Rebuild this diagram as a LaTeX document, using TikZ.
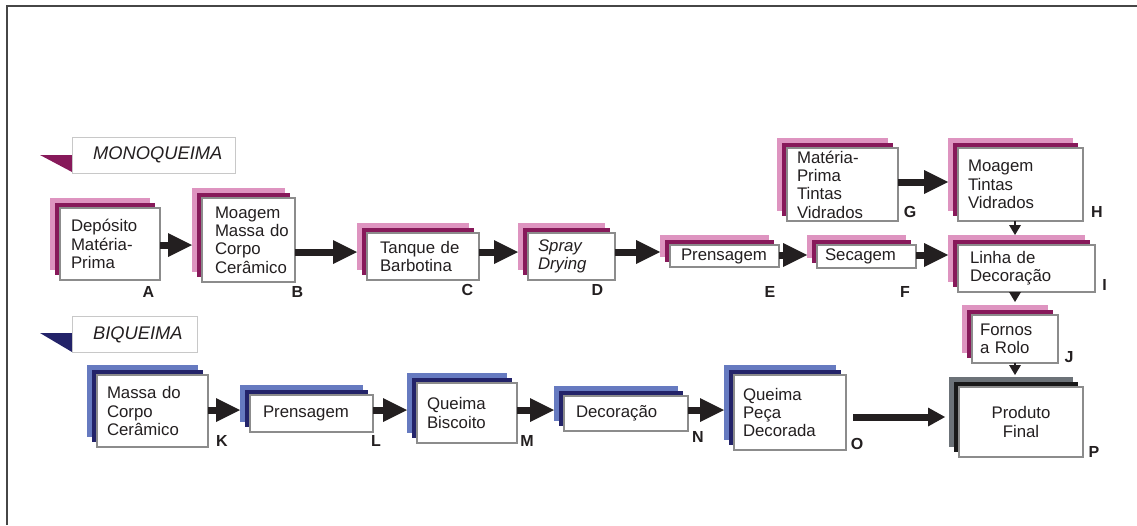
\documentclass[tikz,border=0pt]{standalone}
\usepackage{fontspec}
\setmainfont{Liberation Sans}
\usetikzlibrary{arrows.meta}
\definecolor{pinkL}{RGB}{222,148,192}
\definecolor{plum}{RGB}{135,25,90}
\definecolor{blueL}{RGB}{102,122,192}
\definecolor{navy}{RGB}{35,35,105}
\definecolor{slate}{RGB}{108,114,120}
\definecolor{coal}{RGB}{25,25,25}
\definecolor{ink}{RGB}{35,31,32}
\definecolor{rim}{RGB}{140,140,140}
\definecolor{tagrim}{RGB}{200,200,200}
\definecolor{frameg}{RGB}{70,70,70}
\hyphenpenalty=10000
\exhyphenpenalty=10000

% three stacked sheets: light back, dark middle, white front with the text
% #1 name, #2 x, #3 y (top left of front), #4 width, #5 height,
% #6 back colour, #7 middle colour, #8 front options, #9 text
\newcommand{\layered}[9]{%
  \node[layer, fill=#6, minimum width=#4pt, minimum height=#5pt] (#1-l) at (#2-10,#3-10) {};
  \node[layer, fill=#7, minimum width=#4pt, minimum height=#5pt] (#1-d) at (#2-5,#3-5) {};
  \node[front, minimum width=#4pt, minimum height=#5pt, #8] (#1) at (#2,#3) {#9};
}

\begin{document}
\begin{tikzpicture}[x=1pt,y=-1pt,
  layer/.style={draw=none, inner sep=0pt, outer sep=0pt, anchor=north west},
  front/.style={draw=rim, line width=1.1pt, fill=white, anchor=north west,
    inner ysep=1pt, outer sep=0pt, align=left, text=ink,
    font=\fontsize{16.8}{18.3}\selectfont},
  letter/.style={text=ink, font=\bfseries\fontsize{16}{16}\selectfont, inner sep=0pt},
  tagbox/.style={draw=tagrim, line width=1pt, fill=white, anchor=north west, inner sep=0pt},
  tagtext/.style={text=ink, anchor=west, inner sep=0pt, font=\itshape\fontsize{18.3}{18.3}\selectfont},
  bigarrow/.style={draw=ink, line width=7pt, -{Triangle[length=24pt,width=24pt,line width=0pt 0]}},
  endarrow/.style={draw=ink, line width=7pt, -{Triangle[length=17pt,width=19pt,line width=0pt 0]}},
  smallarrow/.style={draw=ink, line width=1.5pt, -{Triangle[length=10pt,width=12pt,line width=0pt 0]}}
]
\useasboundingbox (0,0) rectangle (1137,525);
\draw[frameg, line width=2pt] (7,525) -- (7,6) -- (1137,6);

% section tags
\fill[plum] (40,155) -- (72,155) -- (72,172) -- cycle;
\node[tagbox, minimum width=163pt, minimum height=36pt] (monotag) at (72,137) {};
\node[tagtext] (monotext) at (93,155) {MONOQUEIMA};
\fill[navy] (40,333) -- (72,333) -- (72,352) -- cycle;
\node[tagbox, minimum width=125pt, minimum height=36pt] (bitag) at (72,316) {};
\node[tagtext] (bitext) at (93,335) {BIQUEIMA};

% single firing line
\layered{A}{60}{208}{100}{72}{pinkL}{plum}{inner xsep=11pt, text width=78pt}{Depósito\\Matéria-\\Prima}
\layered{B}{202}{198}{93}{84}{pinkL}{plum}{inner xsep=13pt, text width=67pt}{Moagem\\Massa~do\\Corpo\\Cerâmico}
\layered{C}{367}{233}{112}{47}{pinkL}{plum}{inner xsep=13pt, text width=86pt}{Tanque~de\\Barbotina}
\layered{D}{528}{233}{87}{47}{pinkL}{plum}{inner xsep=10pt, text width=67pt}{\itshape Spray\\Drying}
\layered{E}{670}{245}{109}{22}{pinkL}{plum}{inner xsep=11pt, text width=87pt}{Prensagem}
\layered{F}{817}{245}{99}{23}{pinkL}{plum}{inner xsep=8pt, text width=83pt}{Secagem}
\layered{G}{787}{148}{111}{73}{pinkL}{plum}{inner xsep=10pt, inner ysep=0pt, text width=91pt}{Matéria-\\Prima\\Tintas\\Vidrados}
\layered{H}{958}{148}{125}{73}{pinkL}{plum}{inner xsep=10pt, text width=105pt}{Moagem\\Tintas\\Vidrados}
\layered{I}{958}{245}{137}{47}{pinkL}{plum}{inner xsep=12pt, text width=113pt}{Linha~de\\Decoração}
\layered{J}{972}{315}{86}{48}{pinkL}{plum}{inner xsep=8pt, text width=70pt}{Fornos\\a~Rolo}
\layered{P}{959}{387}{124}{70}{slate}{coal}{inner xsep=12pt, text width=100pt, align=center}{Produto\\Final}

% double firing line
\layered{K}{97}{375}{111}{72}{blueL}{navy}{inner xsep=10pt, text width=91pt}{Massa~do\\Corpo\\Cerâmico}
\layered{L}{250}{395}{123}{37}{blueL}{navy}{inner xsep=13pt, text width=97pt}{Prensagem}
\layered{M}{417}{383}{100}{60}{blueL}{navy}{inner xsep=10pt, text width=80pt}{Queima\\Biscoito}
\layered{N}{564}{396}{124}{35}{blueL}{navy}{inner xsep=12pt, text width=100pt}{Decoração}
\layered{O}{734}{375}{112}{75}{blueL}{navy}{inner xsep=9pt, text width=94pt}{Queima\\Peça\\Decorada}

% step letters
\node[letter] (lA) at (148.5,292) {A};
\node[letter] (lB) at (297.5,292) {B};
\node[letter] (lC) at (467.5,290) {C};
\node[letter] (lD) at (597.5,290) {D};
\node[letter] (lE) at (770,292) {E};
\node[letter] (lF) at (905,292) {F};
\node[letter] (lG) at (910,212) {G};
\node[letter] (lH) at (1097,212) {H};
\node[letter] (lI) at (1104.5,285) {I};
\node[letter] (lJ) at (1069,357) {J};
\node[letter] (lK) at (222,441) {K};
\node[letter] (lL) at (376,441) {L};
\node[letter] (lM) at (527,441) {M};
\node[letter] (lN) at (698,437) {N};
\node[letter] (lO) at (857,444) {O};
\node[letter] (lP) at (1094,452) {P};

% flow arrows, single firing
\draw[bigarrow] (A.east |- 0,245) -- (B-l.west |- 0,245);
\draw[bigarrow] (B.east |- 0,252) -- (C-l.west |- 0,252);
\draw[bigarrow] (C.east |- 0,252) -- (D-l.west |- 0,252);
\draw[bigarrow] (D.east |- 0,252) -- (E-l.west |- 0,252);
\draw[bigarrow] (E.east |- 0,255) -- (F-l.west |- 0,255);
\draw[bigarrow] (F.east |- 0,255) -- (I-l.west |- 0,255);
\draw[bigarrow] (G.east |- 0,182) -- (H-l.west |- 0,182);
\draw[smallarrow] (H.south -| J.center) -- (I-l.north -| J.center);
\draw[smallarrow] (I.south -| J.center) -- ([yshift=3pt]J-l.north -| J.center);
\draw[smallarrow] (J.south) -- ([yshift=2pt]P-l.north -| J.center);

% flow arrows, double firing
\draw[bigarrow] (K.east |- 0,410) -- (L-l.west |- 0,410);
\draw[bigarrow] (L.east |- 0,410) -- (M-l.west |- 0,410);
\draw[bigarrow] (M.east |- 0,410) -- (N-l.west |- 0,410);
\draw[bigarrow] (N.east |- 0,410) -- (O-l.west |- 0,410);
\draw[endarrow, shorten <=7pt, shorten >=4pt] (O.east |- 0,417) -- (P-l.west |- 0,417);
\end{tikzpicture}
\end{document}
